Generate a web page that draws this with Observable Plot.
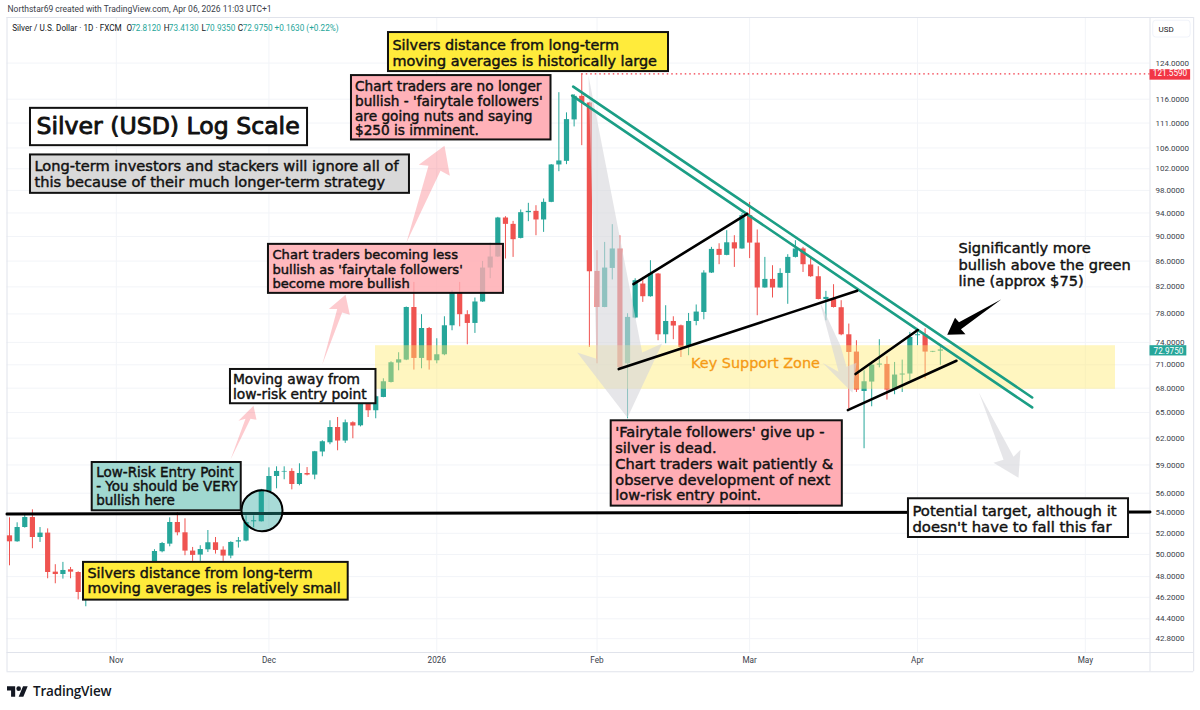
<!DOCTYPE html>
<html>
<head>
<meta charset="utf-8">
<script src="https://cdn.jsdelivr.net/npm/d3@7"></script>
<script src="https://cdn.jsdelivr.net/npm/@observablehq/plot@0.6"></script>
<style>
html,body{margin:0;padding:0;background:#fff;}
#chart svg{display:block;}
#brand{position:absolute;left:7px;top:682px;display:flex;align-items:center;gap:5px;color:#131722;font:600 13.5px "Open Sans",sans-serif;letter-spacing:-.2px;}
</style>
</head>
<body>
<div id="chart"></div>
<div id="brand"><svg width="21" height="14" viewBox="0 0 36 24"><path d="M14 22H7V11H0V4h14v18zM28 22h-8l7.5-18h8L28 22z" fill="#131722"/><circle cx="20" cy="8" r="4" fill="#131722"/></svg><span>TradingView</span></div>
<script>
const opens = [
51.76,51.19,52.56,53.54,51.60,52.02,48.40,48.19,48.61,48.37,
46.60,47.20,47.70,47.30,47.60,48.00,47.50,47.90,48.40,48.80,
50.26,50.97,53.05,52.05,50.32,49.95,50.44,51.10,50.41,49.86,
51.17,51.26,53.12,53.12,56.18,57.76,58.23,58.30,56.91,58.08,
57.91,60.43,61.47,63.23,61.67,63.79,63.43,66.43,65.22,66.84,
68.72,71.23,71.62,78.93,71.84,75.93,71.53,72.33,76.31,81.08,
77.89,76.64,79.74,84.90,86.65,93.13,92.04,89.68,94.05,94.28,
92.79,95.86,102.72,103.41,111.64,116.61,115.20,84.37,78.93,84.84,
87.95,71.13,77.41,82.43,80.52,83.97,75.05,76.92,76.31,73.44,
76.92,78.21,84.12,87.88,86.91,88.96,87.95,93.53,88.91,81.83,
83.14,81.83,84.06,86.59,87.95,85.38,83.55,80.11,80.18,78.90,
75.05,72.69,67.58,68.77,70.96,71.05,67.76,69.67,69.80,74.92,
75.01,72.68,72.81];
const highs = [
53.51,53.02,53.95,54.31,52.56,52.43,49.07,49.28,48.82,48.43,
47.60,48.00,48.10,47.90,48.40,48.30,48.30,48.70,49.10,50.45,
51.13,53.51,54.04,53.41,50.66,50.82,52.27,51.60,50.72,51.19,
51.60,53.71,53.71,56.40,58.69,58.80,58.80,58.59,59.13,58.72,
60.50,61.70,64.02,64.41,64.11,63.90,67.20,66.80,67.05,69.19,
71.40,72.60,79.00,82.68,77.89,76.07,74.50,77.59,81.42,82.68,
78.46,80.33,85.95,88.86,93.24,93.36,92.55,94.52,95.69,95.27,
96.46,102.80,117.40,113.10,116.99,121.56,115.30,87.67,89.02,91.99,
90.13,78.03,83.24,83.45,86.06,84.06,79.19,77.59,76.41,78.07,
79.30,84.48,88.21,88.80,90.97,90.13,93.88,95.86,91.09,86.59,
85.27,84.79,87.02,89.30,88.21,86.53,85.11,81.32,82.33,79.93,
76.55,74.23,70.22,71.31,74.37,72.07,71.31,71.62,75.38,75.38,
75.89,72.78,73.41];
const lows = [
48.97,51.15,52.50,50.54,51.13,47.81,47.37,47.78,47.81,45.98,
45.40,46.90,47.00,47.00,47.30,47.20,47.20,47.70,48.20,48.60,
50.16,50.72,51.76,49.89,49.37,49.37,50.19,50.04,49.37,49.61,
50.60,51.19,52.53,53.10,56.07,56.46,57.41,56.35,56.77,57.82,
57.41,59.90,61.25,60.57,61.40,61.93,63.30,64.41,64.26,66.80,
68.65,70.22,71.55,70.31,70.48,70.31,71.13,72.20,75.61,76.17,
73.68,75.24,79.68,83.24,86.59,86.33,86.59,89.60,92.50,90.13,
90.69,95.80,101.45,102.78,110.20,106.45,73.31,71.13,78.90,83.05,
70.48,64.26,77.30,79.68,80.45,74.23,73.82,74.37,71.97,72.20,
76.31,77.16,84.05,85.43,86.85,85.00,87.90,86.40,77.74,81.80,
80.33,81.80,79.40,86.49,84.21,83.45,80.05,77.02,78.85,74.92,
65.45,67.46,60.80,65.70,70.60,66.52,67.18,67.46,68.94,73.55,
69.15,72.62,70.94];
const closes = [
51.19,52.56,53.54,51.60,52.02,48.37,48.19,48.55,48.40,46.61,
47.20,47.70,47.30,47.60,48.00,47.50,47.90,48.40,49.00,50.28,
51.03,53.05,52.05,50.32,49.92,50.47,51.10,50.38,49.86,51.13,
51.29,53.05,53.22,56.32,57.76,58.30,58.30,56.91,58.08,57.91,
60.46,61.59,63.23,61.67,63.79,63.40,67.05,65.22,66.93,68.81,
71.27,71.66,78.93,71.84,75.93,71.53,72.33,76.31,81.08,77.89,
76.64,79.74,84.90,86.65,93.13,92.04,89.47,94.05,94.28,92.79,
95.86,102.72,103.48,111.70,116.61,115.26,84.32,78.93,84.90,87.95,
70.65,77.50,82.94,80.52,83.97,75.05,76.92,76.27,73.31,76.92,
78.27,84.12,87.88,86.91,88.96,87.95,93.53,88.91,81.83,83.14,
81.83,84.06,86.59,87.95,85.43,83.55,80.11,80.42,78.93,75.05,
72.64,67.76,68.81,70.96,71.10,67.76,69.67,69.80,74.68,75.05,
72.69,72.78,72.98];
const candles = opens.map((o,i)=>({i,o,h:highs[i],l:lows[i],c:closes[i]}));

const priceTicks = [124,116,111,106,102,98,94,90,86,82,78,74,71,68,65,62,59,56,54,52,50,48,46.2,44.4,42.8];
const barTicks = [14,34,56,77,97,119,141];
const barLabels = ["Nov","Dec","2026","Feb","Mar","Apr","May"];

// annotation boxes: bar index span, price span, text
const annotationBoxes = [
 {x1:2.75,x2:39.06,top:114.05,bottom:106.45,fill:"#ffffff",op:1,text:"Silver (USD) Log Scale",size:23.6,lh:1,dx:6,dy:9,sw:.9},
 {x1:2.75,x2:52.42,top:104.64,bottom:97.47,fill:"#D9D9D9",op:1,size:14.6,lh:1.075,dy:5.3,text:"Long-term investors and stackers will ignore all of\nthis because of their much longer-term strategy"},
 {x1:49.67,x2:86.37,top:131.2,bottom:122.07,fill:"#FFEB3B",op:1,size:14.4,lh:1.11,dy:5.7,text:"Silvers distance from long-term\nmoving averages is historically large"},
 {x1:44.82,x2:70.97,top:121.17,bottom:107.58,fill:"#FFA9B0",op:.9,size:13.65,lh:1.077,dy:5.1,dx:3.5,text:"Chart traders are no longer\nbullish - 'fairytale followers'\nare going nuts and saying\n$250 is imminent."},
 {x1:33.94,x2:64.74,top:88.70,bottom:81.02,fill:"#FFA9B0",op:.82,size:13.1,lh:1.107,dy:4.5,text:"Chart traders becoming less\nbullish as 'fairytale followers'\nbecome more bullish"},
 {x1:28.96,x2:48.03,top:70.39,bottom:66.07,fill:"#ffffff",op:1,size:13.8,lh:1.065,dy:4.3,dx:2.5,text:"Moving away from\nlow-risk entry point"},
 {x1:10.84,x2:30.37,top:59.27,bottom:54.21,fill:"#A0D8D0",op:1,size:13.5,lh:1.06,dy:4.1,text:"Low-Risk Entry Point\n- You should be VERY\nbullish here"},
 {x1:9.70,x2:44.39,top:49.28,bottom:45.96,fill:"#FFEB3B",op:1,size:14.3,lh:1.07,dy:4.7,text:"Silvers distance from long-term\nmoving averages is relatively small"},
 {x1:78.86,x2:109.15,top:64.02,bottom:54.68,fill:"#FFA9B0",op:.95,size:14.6,lh:1.08,dy:5.3,text:"'Fairytale followers' give up -\nsilver is dead.\nChart traders wait patiently &\nobserve development of next\nlow-risk entry point."},
 {x1:117.82,x2:146.66,top:55.43,bottom:51.60,fill:"#ffffff",op:1,size:14.8,lh:1.08,dy:5.5,text:"Potential target, although it\ndoesn't have to fall this far"}
];

const tealLines = [
 [[73.88,118.73],[134.03,66.84]],
 [[73.75,116.77],[134.03,65.62]]
];
const blackLines = [
 [[81.78,82.43],[96.68,93.83]],
 [[79.85,70.44],[111.10,81.42]],
 [[110.88,69.80],[119.04,75.71]],
 [[109.87,65.30],[124.11,71.53]]
];
const level54 = [[-0.33,53.9],[149.47,54.1]];

const pinkArrows = [
 [[52.03,89.02],[56.49,101.64],[57.71,100.71],[57.01,106.45],[53.64,102.78],[54.91,102.59]],
 [[40.98,71.00],[43.60,78.22],[44.60,77.89],[44.04,80.82],[41.85,78.71],[42.95,78.71]],
 [[28.96,59.57],[31.59,64.26],[32.37,64.14],[31.98,65.83],[30.01,64.02],[30.93,64.26]]
];
const grayArrows = [
 [[75.88,121.17],[82.92,72.64],[85.54,73.86],[80.99,64.38],[74.40,72.64],[76.93,71.80]],
 [[106.16,79.93],[108.91,73.55],[109.70,70.74],[111.01,71.27],[110.48,67.42],[106.55,71.27],[108.65,70.09]],
 [[127.06,67.42],[131.59,59.90],[132.50,60.68],[132.24,57.62],[128.96,59.24],[130.28,59.57]]
];
const blackArrow = [[130.01,80.15],[124.44,76.81],[123.92,77.45],[122.90,75.06],[125.29,75.12],[124.70,75.82]];

const legendParts = [
 {x:0.35,t:"Silver / U.S. Dollar · 1D · FXCM",c:"#131722"},
 {x:15.33,t:"O",c:"#131722"},{x:15.95,t:"72.8120",c:"#26A69A"},
 {x:20.23,t:"H",c:"#131722"},{x:20.88,t:"73.4130",c:"#26A69A"},
 {x:25.16,t:"L",c:"#131722"},{x:25.69,t:"70.9350",c:"#26A69A"},
 {x:29.92,t:"C",c:"#131722"},{x:30.57,t:"72.9750",c:"#26A69A"},
 {x:34.73,t:"+0.1630 (+0.22%)",c:"#26A69A"}
];

const GREEN="#26A69A", RED="#EF5350", TEAL="#1B9E85", BORDER="#E0E3EB", GRID="#F2F4F8";
const ANNO='"DejaVu Sans",sans-serif', UI='Roboto,sans-serif';
const iL=-0.328, iR=149.475, iEnd=155.2, pTop=134.9, pBot=41.72, pAxisBot=40.26;
const lineMark=(pts,o)=>Plot.line(pts,{x:d=>d[0],y:d=>d[1],...o});

const plot = Plot.plot({
  width:1200,height:710,
  marginLeft:6.5,marginRight:50.5,marginTop:17,marginBottom:58,
  x:{type:"linear",domain:[iL,iR]},
  y:{type:"log",domain:[pBot,pTop]},
  style:{background:"#fff",fontFamily:UI},
  marks:[
    Plot.gridY(priceTicks,{stroke:GRID,strokeOpacity:1}),
    Plot.gridX(barTicks,{stroke:GRID,strokeOpacity:1}),
    Plot.ruleY([pTop,pBot],{x1:iL,x2:iEnd,stroke:BORDER}),
    Plot.ruleY([pAxisBot],{x1:iL,x2:iEnd,stroke:BORDER}),
    Plot.ruleX([iL,iR,iEnd],{y1:pAxisBot,y2:pTop,stroke:BORDER}),
    Plot.axisY({anchor:"right",ticks:priceTicks,tickSize:0,tickPadding:5.5,label:null,
      tickFormat:d3.format(".4f"),fontSize:8,fill:"#3a3e4a",fontFamily:UI}),
    Plot.axisX({anchor:"bottom",ticks:barTicks,tickSize:0,tickPadding:5,label:null,
      tickFormat:d=>barLabels[barTicks.indexOf(d)],fontSize:8.2,fill:"#3a3e4a",fontFamily:UI}),
    Plot.ruleY([121.56],{x1:75,x2:iR,stroke:"#F23645",strokeWidth:1.2,strokeDasharray:"1.5,3"}),
    // candles
    Plot.ruleX(candles,{x:"i",y1:"l",y2:"h",stroke:d=>d.c>=d.o?GREEN:RED,strokeWidth:1}),
    Plot.ruleX(candles,{x:"i",y1:"o",y2:"c",stroke:d=>d.c>=d.o?GREEN:RED,strokeWidth:5.2}),
    // support zone
    Plot.rect([0],{x1:47.97,x2:144.95,y1:73.55,y2:67.86,fill:"#FFE96E",fillOpacity:.43}),
    // arrows
    ...grayArrows.map(a=>lineMark(a,{fill:"#D5D6DA",fillOpacity:.6,stroke:"none"})),
    ...pinkArrows.map(a=>lineMark(a,{fill:"#F7525F",fillOpacity:.3,stroke:"none"})),
    lineMark(blackArrow,{fill:"#000",stroke:"none"}),
    // lines
    lineMark(level54,{stroke:"#000",strokeWidth:3}),
    ...tealLines.map(l=>lineMark(l,{stroke:TEAL,strokeWidth:2.6})),
    ...blackLines.map(l=>lineMark(l,{stroke:"#000",strokeWidth:2.6})),
    // entry circle
    Plot.dot([[33.09,54.21]],{x:d=>d[0],y:d=>d[1],r:20.5,fill:"#26A69A",fillOpacity:.4,stroke:"#000",strokeWidth:2}),
    // boxes
    Plot.rect(annotationBoxes,{x1:"x1",x2:"x2",y1:"top",y2:"bottom",fill:"fill",fillOpacity:"op",stroke:"#111",strokeWidth:2}),
    ...annotationBoxes.map(b=>Plot.text([b],{x:"x1",y:"top",text:"text",textAnchor:"start",lineAnchor:"top",
      dx:b.dx??4,dy:b.dy??2,fontSize:b.size,lineHeight:b.lh,fontFamily:ANNO,fill:"#111",stroke:"#111",strokeWidth:b.sw??.45})),
    // free annotations
    Plot.text(["Key Support Zone"],{x:97.77,y:71.13,fontSize:14.4,fontFamily:ANNO,fill:"#F59A14",stroke:"#F59A14",strokeWidth:.3}),
    Plot.text(["Significantly more\nbullish above the green\nline (approx $75)"],{x:124.38,y:89.3,textAnchor:"start",lineAnchor:"top",dy:.6,
      fontSize:14.6,lineHeight:1.13,fontFamily:ANNO,fill:"#111",stroke:"#111",strokeWidth:.45}),
    // price labels
    Plot.rect([0],{x1:iR,x2:154.8,y1:122.5,y2:120.15,fill:"#F23645"}),
    Plot.text(["121.5590"],{x:152.1,y:121.56,fill:"#fff",fontSize:8.2}),
    Plot.rect([0],{x1:iR,x2:154.3,y1:73.55,y2:72.17,fill:GREEN}),
    Plot.text(["72.9750"],{x:151.9,y:72.83,fill:"#fff",fontSize:8.2}),
    Plot.rect([0],{x1:149.9,x2:154.8,y1:134.1,y2:130,fill:"#fff",stroke:"#F0F3FA",rx:3}),
    Plot.text(["USD"],{x:150.6,y:132,textAnchor:"start",fill:"#131722",fontSize:8}),
    // header + legend row
    Plot.text(["Northstar69 created with TradingView.com, Apr 06, 2026 11:03 UTC+1"],{x:-0.26,y:136.89,textAnchor:"start",fill:"#3a3e4a",fontSize:8.5}),
    Plot.text(legendParts,{x:"x",y:132.3,text:"t",fill:"c",textAnchor:"start",fontSize:8.2})
  ]
});
document.getElementById("chart").appendChild(plot);
</script>
</body>
</html>
